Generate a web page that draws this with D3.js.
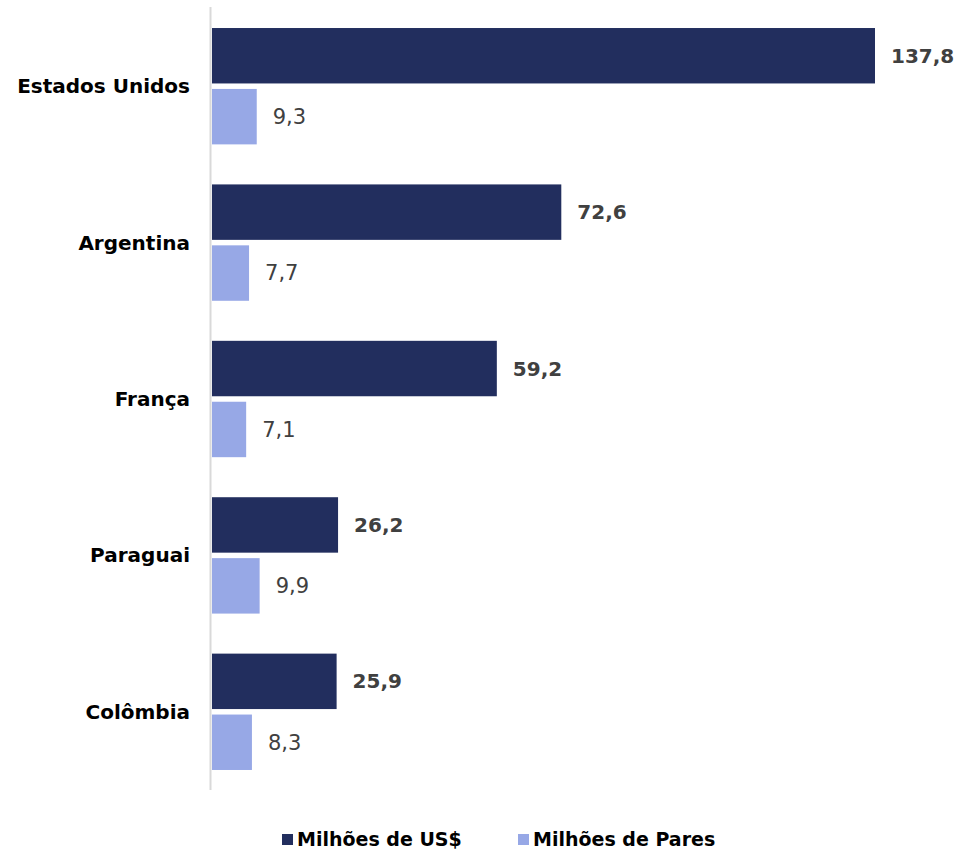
<!DOCTYPE html>
<html>
<head>
<meta charset="utf-8">
<script src="https://cdn.jsdelivr.net/npm/d3@7"></script>
<style>
  body { margin: 0; background: #fff; }
  text { font-family: "DejaVu Sans", sans-serif; }
</style>
</head>
<body>
<svg width="961" height="852"></svg>
<script>
const countries = ['Estados Unidos', 'Argentina', 'França', 'Paraguai', 'Colômbia'];
const usd = [137.8, 72.6, 59.2, 26.2, 25.9];
const pares = [9.3, 7.7, 7.1, 9.9, 8.3];
const seriesNames = ['Milhões de US$', 'Milhões de Pares'];
const colors = ['#222e5e', '#97a8e6'];

const svg = d3.select('svg');
const fmt = (v) => v.toFixed(1).replace('.', ',');

const x = d3.scaleLinear()
  .domain([0, 137.8])
  .range([212, 875]);

const y = d3.scaleBand()
  .domain(countries)
  .range([8, 790])
  .paddingInner(0.256)
  .paddingOuter(0.128);

const sub = d3.scaleBand()
  .domain([0, 1])
  .range([0, y.bandwidth()])
  .paddingInner(0.09);

// axis line
svg.append('line')
  .attr('x1', 210.5).attr('x2', 210.5)
  .attr('y1', 7).attr('y2', 790)
  .attr('stroke', '#d9d9d9')
  .attr('stroke-width', 2);

const groups = svg.selectAll('g.country')
  .data(countries)
  .enter().append('g')
  .attr('class', 'country')
  .attr('transform', (d) => `translate(0,${y(d)})`);

groups.append('text')
  .attr('x', 190)
  .attr('y', y.bandwidth() / 2)
  .attr('dy', '0.35em')
  .attr('text-anchor', 'end')
  .attr('font-size', 20)
  .attr('font-weight', 'bold')
  .attr('fill', '#000')
  .text((d) => d);

[usd, pares].forEach((vals, si) => {
  groups.append('rect')
    .attr('x', x(0))
    .attr('y', sub(si))
    .attr('width', (d, i) => x(vals[i]) - x(0))
    .attr('height', sub.bandwidth())
    .attr('fill', colors[si]);

  groups.append('text')
    .attr('x', (d, i) => x(vals[i]) + 16)
    .attr('y', sub(si) + sub.bandwidth() / 2)
    .attr('dy', '0.35em')
    .attr('font-size', si === 0 ? 20 : 21)
    .attr('font-weight', si === 0 ? 'bold' : 'normal')
    .attr('fill', '#404040')
    .text((d, i) => fmt(vals[i]));
});

// legend
const legendX = [282, 518];
seriesNames.forEach((name, i) => {
  const lg = svg.append('g').attr('transform', `translate(${legendX[i]},839)`);
  lg.append('rect')
    .attr('x', 0).attr('y', -5)
    .attr('width', 11).attr('height', 11)
    .attr('fill', colors[i]);
  lg.append('text')
    .attr('x', 15)
    .attr('y', 0)
    .attr('dy', '0.35em')
    .attr('font-size', 19)
    .attr('font-weight', 'bold')
    .attr('fill', '#000')
    .text(name);
});
</script>
</body>
</html>
